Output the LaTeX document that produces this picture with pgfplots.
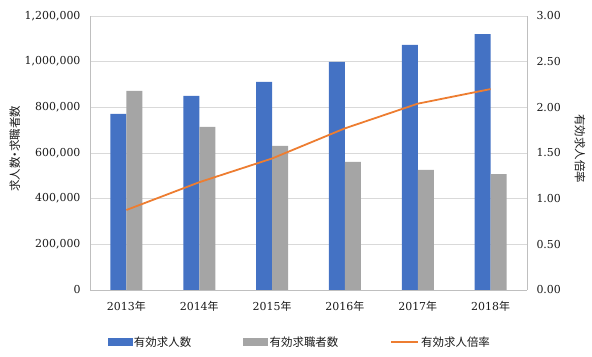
\documentclass[border=0pt]{standalone}
\usepackage{pgfplots}
\pgfplotsset{compat=1.18}
\usepackage{fontspec}
\setmainfont{DejaVu Serif}
\newfontfamily\jp{Noto Sans CJK JP}
\definecolor{cblue}{HTML}{4472C4}
\definecolor{cgray}{HTML}{A5A5A5}
\definecolor{corange}{HTML}{ED7D31}
\definecolor{cgrid}{HTML}{D9D9D9}
\definecolor{caxis}{HTML}{BFBFBF}
\definecolor{ctext}{HTML}{1A1A1A}
\begin{document}
\begin{tikzpicture}
\useasboundingbox (0,0) rectangle (592bp,357bp);
\pgfplotsset{
  common/.style={
    at={(90bp,67bp)}, anchor=south west,
    scale only axis, width=437bp, height=274bp,
    xmin=-0.5, xmax=5.5,
    major tick length=0pt,
    axis line style={caxis},
    tick label style={font=\fontsize{11}{13}\selectfont, text=ctext},
    label style={font=\jp\fontsize{11.5}{13}\selectfont, text=ctext},
    /pgf/number format/assume math mode=true,
  }
}
\begin{axis}[common,
  ybar=0pt, bar width=16bp,
  ymin=0, ymax=1200000,
  ytick={0,200000,400000,600000,800000,1000000,1200000},
  scaled y ticks=false,
  yticklabel style={/pgf/number format/fixed, /pgf/number format/1000 sep={,}, xshift=-6bp},
  ymajorgrids, grid style={cgrid},
  xtick={0,1,2,3,4,5},
  xticklabels={2013{\jp 年},2014{\jp 年},2015{\jp 年},2016{\jp 年},2017{\jp 年},2018{\jp 年}},
  xticklabel style={yshift=-8bp},
  ylabel={求人数{\kern-0.25em}・{\kern-0.25em}求職者数},
  ylabel style={at={(axis description cs:-0.172,0.515)}, anchor=center},
  axis y line*=left, axis x line*=bottom,
]
\addplot[fill=cblue, draw=none] coordinates {(0,771000) (1,850000) (2,911000) (3,999000) (4,1073000) (5,1121000)};
\addplot[fill=cgray, draw=none] coordinates {(0,872000) (1,714000) (2,631000) (3,561000) (4,526000) (5,508000)};
\end{axis}
\begin{axis}[common,
  ymin=0, ymax=3,
  ytick={0,0.5,1,1.5,2,2.5,3},
  yticklabel style={/pgf/number format/fixed, /pgf/number format/fixed zerofill, /pgf/number format/precision=2, xshift=6bp},
  axis y line*=right, axis x line=none,
  ylabel={有効求人倍率},
  ylabel style={at={(axis description cs:1.121,0.515)}, anchor=center, rotate=180},
  legend columns=3,
  legend style={draw=none, fill=none, at={(axis description cs:0.48,-0.19)}, anchor=center,
    font=\jp\fontsize{11.5}{13}\selectfont, text=ctext,
    /tikz/every even column/.append style={column sep=50bp}},
]
\addlegendimage{legend image code/.code={\fill[cblue] (0bp,-3.5bp) rectangle (24bp,3.5bp);}}
\addlegendentry{有効求人数}
\addlegendimage{legend image code/.code={\fill[cgray] (0bp,-3.5bp) rectangle (24bp,3.5bp);}}
\addlegendentry{有効求職者数}
\addplot[corange, line width=1.8bp, mark=none, legend image code/.code={\draw[corange, line width=1.8bp] (0bp,0bp) -- (27bp,0bp);}] coordinates {(0,0.876) (1,1.18) (2,1.44) (3,1.77) (4,2.04) (5,2.20)};
\addlegendentry{有効求人倍率}
\end{axis}
\end{tikzpicture}
\end{document}
